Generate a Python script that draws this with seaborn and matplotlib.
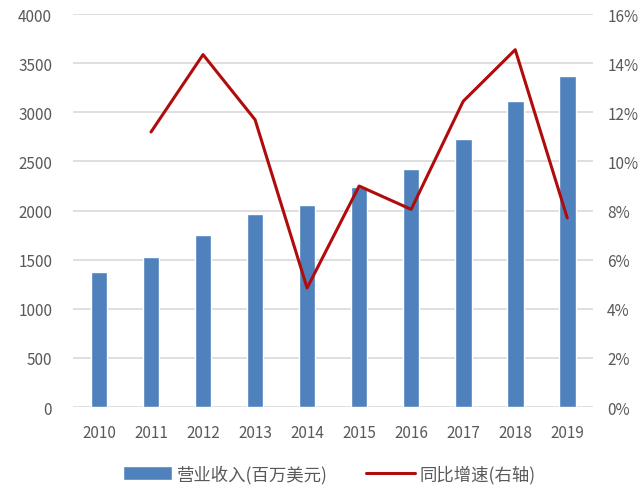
import numpy as np
import pandas as pd
import seaborn as sns
import matplotlib.pyplot as plt
from matplotlib.ticker import FuncFormatter

# 数据
years = ['2010', '2011', '2012', '2013', '2014', '2015', '2016', '2017', '2018', '2019']
revenue = [1380, 1530, 1750, 1965, 2055, 2245, 2420, 2725, 3120, 3365]
growth = [np.nan, 11.2, 14.35, 11.7, 4.85, 9.0, 8.05, 12.45, 14.55, 7.7]

df = pd.DataFrame({'year': years, 'revenue': revenue, 'growth': growth})
df['pos'] = np.arange(len(df))

sns.set_theme(style='white')
plt.rcParams['font.family'] = ['Noto Sans CJK SC', 'DejaVu Sans']

fig = plt.figure(figsize=(6.4, 5.02), dpi=100)
ax = fig.add_axes([0.114, 0.187, 0.813, 0.783])

bar_color = '#4F81BD'
line_color = '#B00C0C'
text_color = '#595959'

sns.barplot(data=df, x='year', y='revenue', color=bar_color, width=0.32,
            saturation=1, ax=ax, label='营业收入(百万美元)', zorder=2)
ax.set_ylim(0, 4000)
ax.set_yticks(range(0, 4001, 500))
ax.set_xlim(-0.5, len(years) - 0.5)
ax.yaxis.grid(True, color='#D9D9D9', linewidth=1.2, zorder=0)
ax.set_axisbelow(True)
ax.set_xlabel('')
ax.set_ylabel('')
for s in ax.spines.values():
    s.set_visible(False)
ax.tick_params(axis='both', length=0, labelsize=11, labelcolor=text_color)
ax.tick_params(axis='x', pad=12)
ax.tick_params(axis='y', pad=15)

ax2 = ax.twinx()
sns.lineplot(data=df, x='pos', y='growth', color=line_color, linewidth=2.2,
             ax=ax2, label='同比增速(右轴)')
ax2.set_ylim(0, 16)
ax2.set_yticks(range(0, 17, 2))
ax2.yaxis.set_major_formatter(FuncFormatter(lambda v, p: f'{v:.0f}%'))
ax2.set_ylabel('')
ax2.set_xlabel('')
ax2.set_xlim(-0.5, len(years) - 0.5)
for s in ax2.spines.values():
    s.set_visible(False)
ax2.tick_params(axis='y', length=0, labelsize=11, labelcolor=text_color, pad=10)
ax2.get_legend().remove()

h1, l1 = ax.get_legend_handles_labels()
h2, l2 = ax2.get_legend_handles_labels()
if ax.get_legend() is not None:
    ax.get_legend().remove()
fig.legend(h1 + h2, l1 + l2, loc='center', bbox_to_anchor=(0.515, 0.054), ncol=2,
           frameon=False, fontsize=12.5, handlelength=2.8, handleheight=0.9,
           handletextpad=0.3, columnspacing=2.2, labelcolor=text_color)

fig.savefig('out.png', dpi=100)
